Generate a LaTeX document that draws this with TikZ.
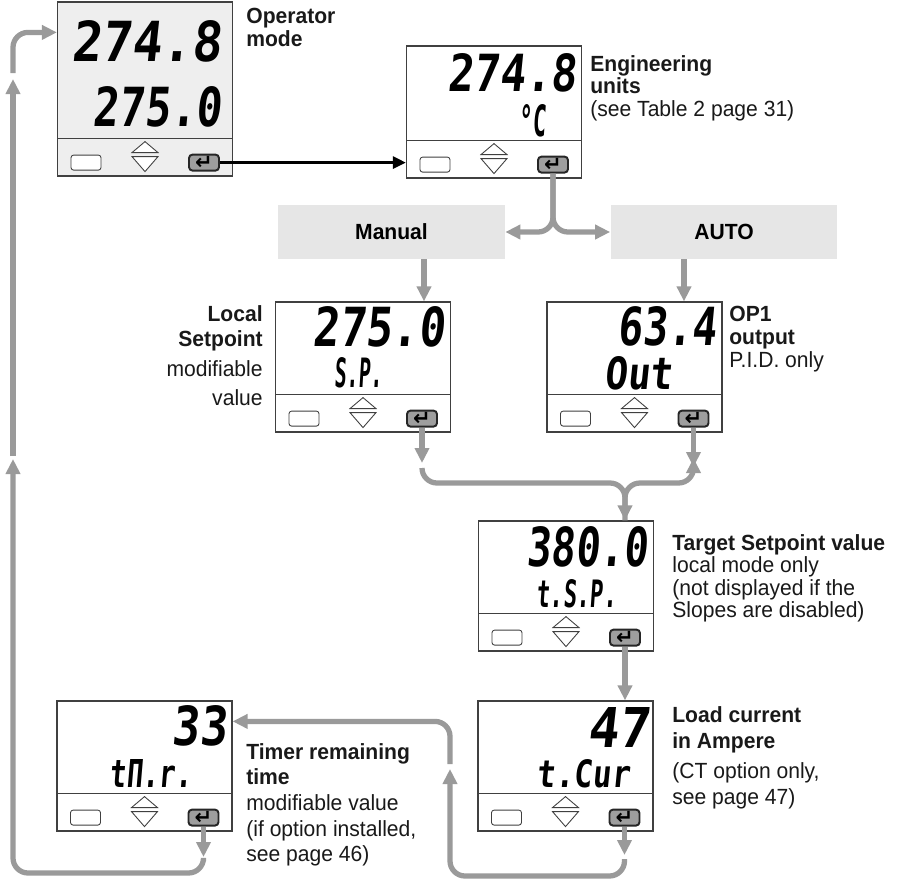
\documentclass[tikz,border=0pt]{standalone}
\usepackage{fontspec}
\usepackage{graphicx}
\setmainfont{Liberation Sans}[FakeStretch=0.96]
\newfontfamily\lcdfont{DejaVu Sans Mono}[FakeSlant=0.12]
\newfontfamily\symfont{DejaVu Sans}
\usetikzlibrary{arrows.meta,calc}
\definecolor{flowgray}{HTML}{9A9A9A}
\definecolor{boxgray}{HTML}{E6E6E6}
\definecolor{opgray}{HTML}{EEEEEE}
\definecolor{keygray}{HTML}{9E9E9E}

\begin{document}
\begin{tikzpicture}[x=0.02cm, y=-0.02cm,
  panel/.style={draw=black!75, line width=0.7pt, fill=white, minimum width=3.5cm, minimum height=2.6cm, inner sep=0pt},
  modebox/.style={fill=boxgray, minimum width=4.54cm, minimum height=1.08cm, font=\bfseries\fontsize{12.5}{13}\selectfont},
  softkey/.style={draw=black!75, line width=0.5pt, fill=white, rounded corners=1.5pt, minimum width=0.6cm, minimum height=0.3cm, inner sep=0pt},
  enterkey/.style={draw=black!85, line width=1.1pt, fill=keygray, rounded corners=2pt, minimum width=0.6cm, minimum height=0.32cm, inner sep=0pt, font=\symfont\bfseries\fontsize{12}{12}\selectfont},
  reading/.style={anchor=south east, inner sep=0pt, font=\lcdfont\bfseries},
  desc/.style={inner sep=0pt, align=left, anchor=north west, text=black!90, font=\fontsize{12.5}{12.8}\selectfont},
  flow/.style={draw=flowgray, line width=3pt, -{Triangle[length=0.3cm, width=0.28cm]}},
  bentflow/.style={flow, rounded corners=0.3cm}]
\useasboundingbox (0,0) rectangle (897,883);

% Display units
\node[panel, fill=opgray, minimum height=3.48cm] (oper) at (145,89) {};
\node[panel, minimum height=2.64cm] (eng) at (494,112) {};
\node[panel] (loc) at (363,367) {};
\node[panel] (op) at (634.5,367) {};
\node[panel] (tsp) at (566,586) {};
\node[panel] (cur) at (565.5,766) {};
\node[panel] (tmr) at (144.5,766) {};

% Key row of every unit
\foreach \p in {oper,eng,loc,op,tsp,cur,tmr} {
  \begin{scope}[shift={(\p.south)}]
    \draw[black!75, line width=0.6pt] (-87.5,-38) -- (87.5,-38);
    \node[softkey] (\p-key) at (-59,-14) {};
    \draw[black!75, line width=0.5pt, fill=white] (-13,-24) -- (0,-35) -- (13,-24) -- cycle;
    \draw[black!75, line width=0.5pt, fill=white] (-13,-20) -- (0,-5) -- (13,-20) -- cycle;
    \node[enterkey] (\p-ent) at (59,-14) {↵};
  \end{scope}
}

% Readings
\node[reading] (oper-pv) at (222,63) {\resizebox{3cm}{0.82cm}{274.8}};
\node[reading] (oper-sv) at (222,128) {\resizebox{2.58cm}{0.8cm}{275.0}};
\node[reading] (eng-pv) at (577,93) {\resizebox{2.58cm}{0.76cm}{274.8}};
\node[reading] (eng-unit) at (546,137) {\resizebox{0.54cm}{0.64cm}{°C}};
\node[reading] (loc-pv) at (445,348) {\resizebox{2.64cm}{0.8cm}{275.0}};
\node[reading] (loc-name) at (383,388) {\resizebox{0.96cm}{0.6cm}{S.P.}};
\node[reading] (op-pv) at (717,347) {\resizebox{1.98cm}{0.78cm}{63.4}};
\node[reading] (op-name) at (673,390) {\resizebox{1.36cm}{0.66cm}{Out}};
\node[reading] (tsp-pv) at (648,568) {\resizebox{2.42cm}{0.8cm}{380.0}};
\node[reading] (tsp-name) at (617,608) {\resizebox{1.6cm}{0.56cm}{t.S.P.}};
\node[reading] (cur-pv) at (650,748) {\resizebox{1.24cm}{0.8cm}{47}};
\node[reading] (cur-name) at (630,788) {\resizebox{1.86cm}{0.56cm}{t.Cur}};
\node[reading] (tmr-pv) at (227,747) {\resizebox{1.1cm}{0.8cm}{33}};
\node[reading] (tmr-name) at (192,788) {\resizebox{1.64cm}{0.56cm}{tΠ.r.}};

% Mode boxes
\node[modebox] (manual) at (391.5,232) {Manual};
\node[modebox] (auto) at (724,232) {AUTO};

% Descriptions
\node[desc, font=\fontsize{12.5}{13.1}\selectfont] (oper-txt) at (246,8) {\textbf{Operator}\\\textbf{mode}};
\node[desc] (eng-txt) at (590,55) {\textbf{Engineering}\\\textbf{units}\\(see Table 2 page 31)};
\node[desc, align=right, anchor=north east, font=\fontsize{12.5}{14.2}\selectfont] (loc-txt) at (263,305) {\textbf{Local}\\\textbf{Setpoint}\\[2.8pt]modifiable\\[2.8pt]value};
\node[desc, font=\fontsize{12.5}{13.1}\selectfont] (op-txt) at (729,306) {\textbf{OP1}\\\textbf{output}\\P.I.D. only};
\node[desc] (tsp-txt) at (672,534) {\textbf{Target Setpoint value}\\local mode only\\(not displayed if the\\Slopes are disabled)};
\node[desc, font=\fontsize{12.5}{14.8}\selectfont] (cur-txt) at (672,706) {\textbf{Load current}\\\textbf{in Ampere}\\[2.3pt](CT option only,\\see page 47)};
\node[desc, font=\fontsize{12.5}{14.6}\selectfont] (tmr-txt) at (246,743) {\textbf{Timer remaining}\\\textbf{time}\\modifiable value\\(if option installed,\\see page 46)};

% Operator mode -> engineering units
\draw[black, line width=1.6pt, -{Triangle[length=0.26cm, width=0.24cm]}] (oper-ent.east) -- (oper-ent.east -| eng.west);

% Engineering units -> Manual / AUTO
\draw[bentflow] (eng-ent.south) |- (manual.east);
\draw[bentflow] (eng-ent.south) |- (auto.west);
\draw[flow] (manual.south -| 424,0) -- (loc.north -| 424,0);
\draw[flow] (auto.south -| 684,0) -- (op.north -| 684,0);

% Both branches join on the target setpoint
\draw[flow] (loc-ent.south) -- (loc-ent |- 0,463);
\draw[flow] (op-ent.south) -- (op-ent |- 0,467);
\draw[bentflow] (loc-ent |- 0,468) |- (tsp-ent |- 0,483) -- (tsp-ent |- tsp.north);
\draw[bentflow, {Triangle[length=0.3cm, width=0.28cm]}-] (op-ent |- 0,458) |- (tsp-ent |- 0,483) -- (tsp-ent |- tsp.north);
\draw[flow] (tsp-ent.south) -- (tsp-ent |- cur.north);

% Load current -> timer
\coordinate (curup) at (450,769);
\draw[flow] (cur-ent.south) -- (cur-ent |- 0,855);
\draw[bentflow] (cur-ent |- 0,859) |- (450,876) -- (curup);
\draw[bentflow] (450,764) |- ([yshift=-0.42cm]tmr.north east);

% Timer -> back to operator mode
\coordinate (backmid) at (13,459);
\coordinate (backtop) at (13,79);
\draw[flow] (tmr-ent.south) -- (tmr-ent |- 0,857);
\draw[bentflow] (tmr-ent |- 0,861) |- (13,873) -- (backmid);
\draw[flow] (13,456) -- (backtop);
\draw[bentflow] (13,73) |- ([yshift=-0.62cm]oper.north west);

\end{tikzpicture}
\end{document}
